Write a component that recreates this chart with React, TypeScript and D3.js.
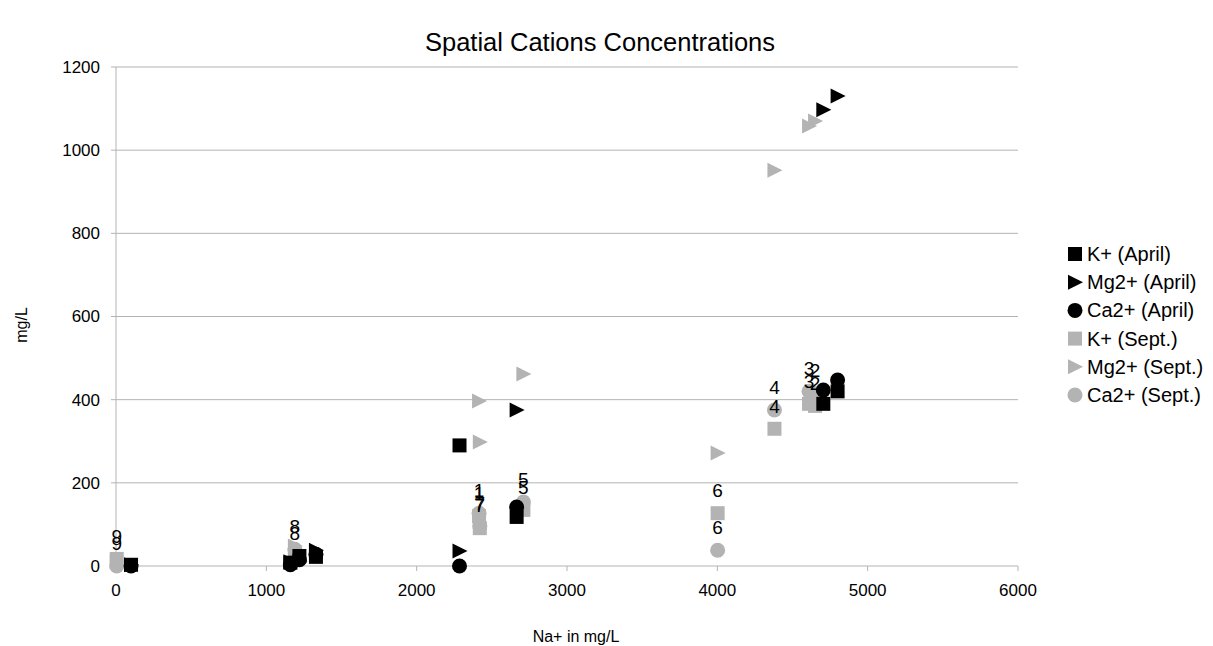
import React from "react";
import * as d3 from "d3";

// ---- data ----
const siteLabels = ["1", "2", "3", "4", "5", "6", "7", "8", "9"];
const naSept = [2415, 4650, 4610, 4380, 2710, 4002, 2420, 1190, 5];
const kSept = [120, 385, 390, 330, 135, 127, 91, 24, 17];
const mgSept = [397, 1070, 1058, 952, 462, 272, 298, 48, 10];
const caSept = [127, 415, 420, 375, 154, 38, 95, 40, 0];

const naApril = [100, 1160, 1220, 1330, 2285, 2665, 4705, 4800];
const kApril = [3, 8, 24, 22, 290, 118, 390, 420];
const mgApril = [3, 10, 12, 38, 36, 375, 1097, 1130];
const caApril = [0, 3, 15, 28, 0, 142, 423, 447];

const xTicks = [0, 1000, 2000, 3000, 4000, 5000, 6000];
const yTicks = [0, 200, 400, 600, 800, 1000, 1200];

const seriesNames = ["K+ (April)", "Mg2+ (April)", "Ca2+ (April)", "K+ (Sept.)", "Mg2+ (Sept.)", "Ca2+ (Sept.)"];

const BLACK = "#000000";
const GRAY = "#b3b3b3";
const FONT = "Liberation Sans, Arial, sans-serif";

type Shape = "square" | "triangle" | "circle";

function Marker({ shape, cx, cy, color }: { shape: Shape; cx: number; cy: number; color: string }) {
  if (shape === "square") return <rect x={cx - 7} y={cy - 7} width={14} height={14} fill={color} />;
  if (shape === "circle") return <circle cx={cx} cy={cy} r={7.5} fill={color} />;
  return <path d={`M${cx - 7},${cy - 7.5}L${cx + 8},${cy}L${cx - 7},${cy + 7.5}Z`} fill={color} />;
}

export default function App() {
  const W = 1213, H = 646;
  const x = d3.scaleLinear().domain([0, 6000]).range([116, 1018]);
  const y = d3.scaleLinear().domain([0, 1200]).range([566, 67]);

  const series = [
    { name: seriesNames[3], xs: naSept, ys: kSept, shape: "square" as Shape, color: GRAY },
    { name: seriesNames[4], xs: naSept, ys: mgSept, shape: "triangle" as Shape, color: GRAY },
    { name: seriesNames[5], xs: naSept, ys: caSept, shape: "circle" as Shape, color: GRAY },
    { name: seriesNames[0], xs: naApril, ys: kApril, shape: "square" as Shape, color: BLACK },
    { name: seriesNames[1], xs: naApril, ys: mgApril, shape: "triangle" as Shape, color: BLACK },
    { name: seriesNames[2], xs: naApril, ys: caApril, shape: "circle" as Shape, color: BLACK },
  ];

  const legend = [
    { name: seriesNames[0], shape: "square" as Shape, color: BLACK },
    { name: seriesNames[1], shape: "triangle" as Shape, color: BLACK },
    { name: seriesNames[2], shape: "circle" as Shape, color: BLACK },
    { name: seriesNames[3], shape: "square" as Shape, color: GRAY },
    { name: seriesNames[4], shape: "triangle" as Shape, color: GRAY },
    { name: seriesNames[5], shape: "circle" as Shape, color: GRAY },
  ];

  const labelSeries = [kSept, caSept];

  return (
    <svg width={W} height={H} style={{ position: "absolute", left: 0, top: 0, background: "#fff" }} fontFamily={FONT}>
      <rect width={W} height={H} fill="#fff" />
      {/* gridlines */}
      {yTicks.map((t) => (
        <line key={"g" + t} x1={x(0)} x2={x(6000)} y1={y(t)} y2={y(t)} stroke={GRAY} strokeWidth={1} />
      ))}
      {/* y axis line */}
      <line x1={x(0)} x2={x(0)} y1={y(0)} y2={y(1200)} stroke={GRAY} strokeWidth={1} />
      {yTicks.map((t) => (
        <line key={"yt" + t} x1={x(0) - 5} x2={x(0)} y1={y(t)} y2={y(t)} stroke={GRAY} />
      ))}
      {xTicks.map((t) => (
        <line key={"xt" + t} x1={x(t)} x2={x(t)} y1={y(0)} y2={y(0) + 5} stroke={GRAY} />
      ))}
      {/* tick labels */}
      {yTicks.map((t) => (
        <text key={"yl" + t} x={100} y={y(t)} dy="0.35em" textAnchor="end" fontSize={17}>
          {t}
        </text>
      ))}
      {xTicks.map((t) => (
        <text key={"xl" + t} x={x(t)} y={596} textAnchor="middle" fontSize={17}>
          {t}
        </text>
      ))}
      {/* titles */}
      <text x={600} y={51} textAnchor="middle" fontSize={25.5}>
        Spatial Cations Concentrations
      </text>
      <text x={576} y={642} textAnchor="middle" fontSize={16}>
        Na+ in mg/L
      </text>
      <text transform={`translate(27,${325}) rotate(-90)`} textAnchor="middle" fontSize={16}>
        mg/L
      </text>
      {/* points */}
      {series.map((s, si) => (
        <g key={"s" + si}>
          {s.xs.map((v, i) => (
            <Marker key={i} shape={s.shape} cx={x(v)} cy={y(s.ys[i])} color={s.color} />
          ))}
        </g>
      ))}
      {/* data labels */}
      {labelSeries.map((ys, li) => (
        <g key={"l" + li}>
          {naSept.map((v, i) => (
            <text key={i} x={x(v)} y={y(ys[i]) - 16} textAnchor="middle" fontSize={19}>
              {siteLabels[i]}
            </text>
          ))}
        </g>
      ))}
      {/* legend */}
      {legend.map((l, i) => {
        const cy = 254 + i * 28.2;
        return (
          <g key={"lg" + i}>
            <Marker shape={l.shape} cx={1075} cy={cy} color={l.color} />
            <text x={1087} y={cy} dy="0.35em" fontSize={20}>
              {l.name}
            </text>
          </g>
        );
      })}
    </svg>
  );
}
